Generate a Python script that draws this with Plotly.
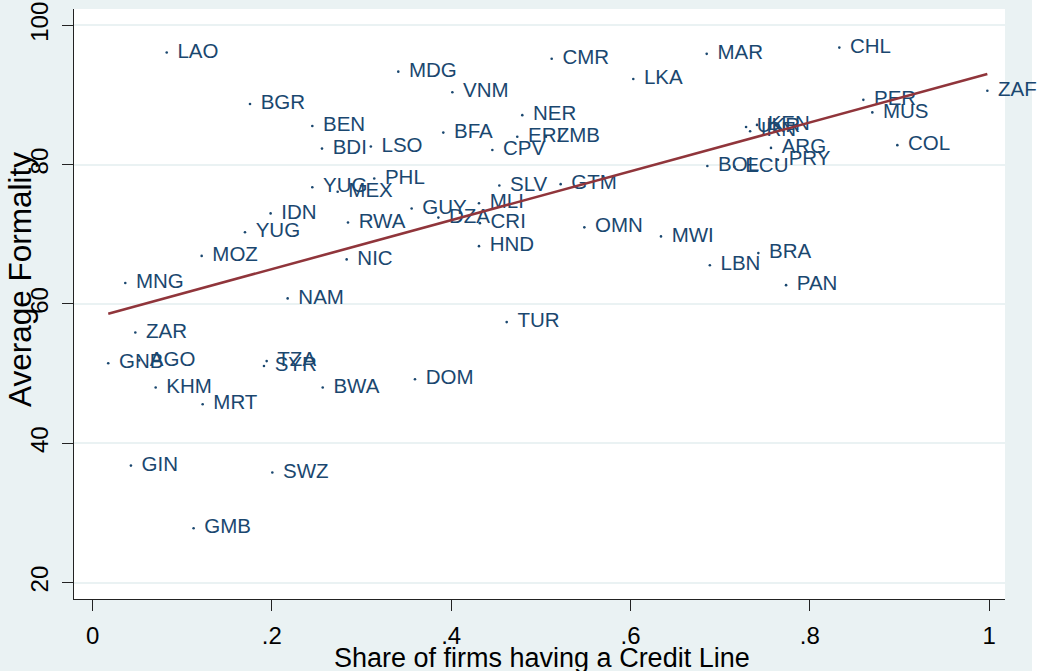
import plotly.graph_objects as go

# ---- data ----
countries = ["LAO", "MDG", "BGR", "BEN", "BDI", "LSO", "YUG", "MEX", "PHL", "IDN",
             "YUG", "RWA", "MOZ", "NIC", "MNG", "NAM", "ZAR", "GNB", "AGO", "TZA",
             "SYR", "KHM", "BWA", "MRT", "GIN", "SWZ", "GMB", "CMR", "MAR", "LKA",
             "VNM", "NER", "BFA", "ERI", "ZMB", "CPV", "SLV", "GTM", "GUY", "DZA",
             "MLI", "CRI", "HND", "OMN", "MWI", "LBN", "BOL", "CHL", "ZAF", "PER",
             "MUS", "UKR", "IRN", "KEN", "ARG", "PRY", "ECU", "BRA", "PAN", "COL",
             "TUR", "DOM"]
credit_share = [0.0827, 0.341, 0.1756, 0.2451, 0.2559, 0.3104, 0.2451, 0.2734, 0.3142, 0.1986,
                0.170, 0.2849, 0.1217, 0.2834, 0.0365, 0.2176, 0.0477, 0.0175, 0.052, 0.1942,
                0.1912, 0.0704, 0.2567, 0.1228, 0.0428, 0.2005, 0.1127, 0.5121, 0.685, 0.6031,
                0.4013, 0.4793, 0.3912, 0.4737, 0.5057, 0.4459, 0.4537, 0.5221, 0.3559, 0.3857,
                0.431, 0.432, 0.431, 0.5485, 0.634, 0.6885, 0.6857, 0.8329, 0.998, 0.8597,
                0.8697, 0.7289, 0.7334, 0.7411, 0.7567, 0.7645, 0.716, 0.7426, 0.7735, 0.8976,
                0.4619, 0.3596]
formality = [96.1, 93.35, 88.7, 85.55, 82.3, 82.6, 76.75, 76.1, 78.0, 73.0,
             70.3, 71.7, 66.9, 66.4, 63.0, 60.8, 55.9, 51.5, 51.9, 51.8,
             51.1, 48.0, 48.0, 45.6, 36.8, 35.8, 27.8, 95.2, 95.9, 92.3,
             90.4, 87.1, 84.6, 84.0, 84.0, 82.1, 77.0, 77.2, 73.7, 72.4,
             74.45, 71.6, 68.3, 71.0, 69.7, 65.55, 79.8, 96.8, 90.6, 89.3,
             87.5, 85.4, 84.8, 85.7, 82.4, 80.7, 79.7, 67.3, 62.7, 82.8,
             57.4, 49.2]
fit_x = [0.0175, 0.998]
fit_y = [58.6, 93.0]

x_ticks = [0, 0.2, 0.4, 0.6, 0.8, 1]
x_ticktext = ["0", ".2", ".4", ".6", ".8", "1"]
y_ticks = [20, 40, 60, 80, 100]
y_ticktext = ["20", "40", "60", "80", "100"]

NAVY = "#1A476F"
FIT = "#90353B"
BG = "#EAF2F3"
FONT = "Liberation Sans, Arial, sans-serif"

fig = go.Figure()

# tiny point markers
fig.add_trace(go.Scatter(
    x=credit_share, y=formality, mode="markers",
    marker=dict(size=2.6, color=NAVY, line=dict(width=0)),
    showlegend=False, hoverinfo="skip"))

# labels (transparent marker used only to offset the text)
fig.add_trace(go.Scatter(
    x=credit_share, y=formality, mode="markers+text",
    text=countries, textposition="middle right",
    textfont=dict(family=FONT, size=20.5, color=NAVY),
    marker=dict(size=15.5, color="rgba(0,0,0,0)", line=dict(width=0)),
    cliponaxis=False, showlegend=False, hoverinfo="skip"))

# fitted line
fig.add_trace(go.Scatter(
    x=fit_x, y=fit_y, mode="lines",
    line=dict(color=FIT, width=2.6),
    showlegend=False, hoverinfo="skip"))

L, R, T, B = 74, 34, 9, 72
W, H = 1039, 671
pw, ph = W - L - R, H - T - B

fig.update_layout(
    width=W, height=H,
    margin=dict(l=L, r=R, t=T, b=B, autoexpand=False),
    paper_bgcolor=BG, plot_bgcolor="white",
    font=dict(family=FONT, color="black"),
    xaxis=dict(
        range=[-0.0207, 1.0177], tickvals=x_ticks, ticktext=x_ticktext,
        showgrid=False, zeroline=False, showline=True, linecolor="#222222", linewidth=1.3,
        ticks="outside", ticklen=11, tickwidth=1.3, tickcolor="#222222",
        tickfont=dict(family=FONT, size=24, color="black"), ticklabelstandoff=4),
    yaxis=dict(
        range=[17.65, 102.34], tickvals=y_ticks, ticktext=y_ticktext,
        showgrid=True, gridcolor=BG, gridwidth=2, zeroline=False,
        showline=True, linecolor="#222222", linewidth=1.3,
        ticks="outside", ticklen=11, tickwidth=1.3, tickcolor="#222222",
        tickangle=-90, tickfont=dict(family=FONT, size=24, color="black"),
        ticklabelstandoff=4),
    annotations=[
        dict(text="Share of firms having a Credit Line", xref="paper", yref="paper",
             x=(542 - L) / pw, y=(H - B - 658) / ph, xanchor="center", yanchor="middle",
             showarrow=False, font=dict(family=FONT, size=27, color="black")),
        dict(text="Average Formality", xref="paper", yref="paper", textangle=-90,
             x=(20 - L) / pw, y=(H - B - 280) / ph, xanchor="center", yanchor="middle",
             showarrow=False, font=dict(family=FONT, size=31.5, color="black")),
    ],
    shapes=[
        dict(type="rect", xref="paper", yref="paper", layer="below",
             x0=(1032 - L) / pw, x1=(1045 - L) / pw, y0=-(B + 5) / ph, y1=1 + (T + 5) / ph,
             fillcolor="white", line=dict(width=0)),
    ],
)

fig.write_html("out.html", config={"displayModeBar": False},
               post_script="document.body.style.margin='0';document.body.style.overflow='hidden';")
